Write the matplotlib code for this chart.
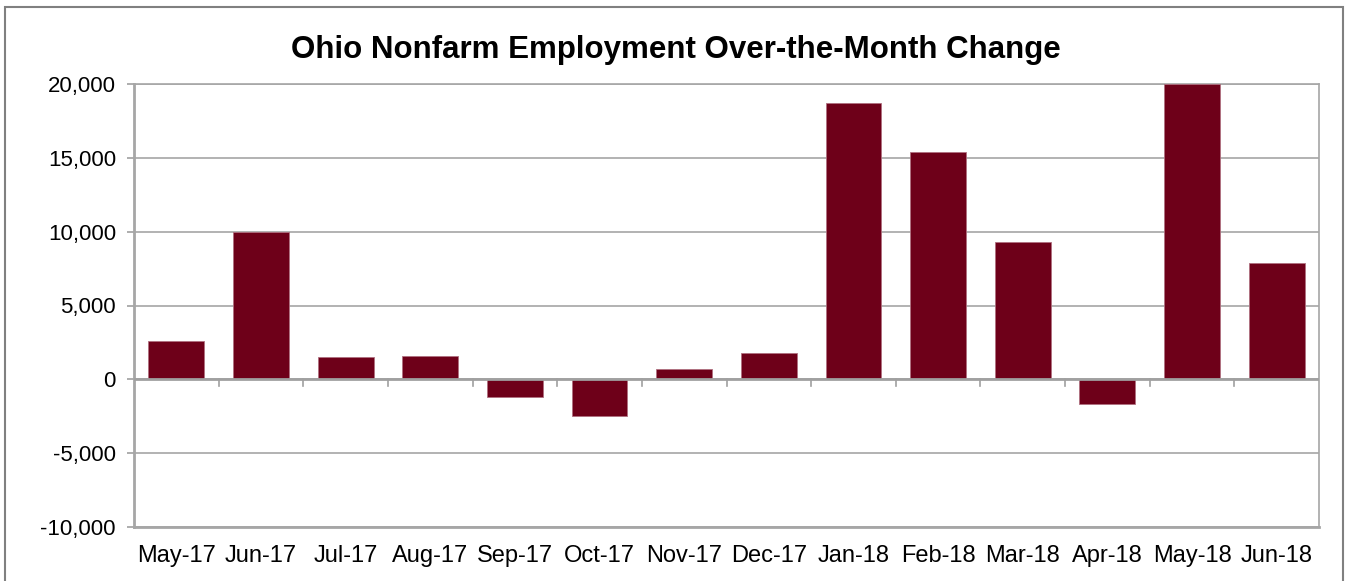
import matplotlib
matplotlib.use("Agg")
import matplotlib.pyplot as plt
from matplotlib.patches import Rectangle
from matplotlib.ticker import FuncFormatter
import numpy as np

months = ["May-17", "Jun-17", "Jul-17", "Aug-17", "Sep-17", "Oct-17", "Nov-17",
          "Dec-17", "Jan-18", "Feb-18", "Mar-18", "Apr-18", "May-18", "Jun-18"]
change = [2600, 10000, 1500, 1600, -1200, -2500, 700,
          1800, 18700, 15400, 9300, -1700, 20000, 7900]

plt.rcParams["font.family"] = ["Liberation Sans", "DejaVu Sans"]

W, H = 1349, 581
fig = plt.figure(figsize=(W / 100, H / 100), dpi=100)
ax = fig.add_axes([134 / W, 1 - 527 / H, (1319 - 134) / W, (527 - 84) / H])

x = np.arange(len(months))
ax.bar(x, change, width=0.66, color="#6E0019", edgecolor="#B07080",
       linewidth=0.6, zorder=3)

ax.set_xlim(-0.5, len(months) - 0.5)
ax.set_ylim(-10000, 20000)
ax.set_yticks(np.arange(-10000, 20001, 5000))
ax.yaxis.set_major_formatter(FuncFormatter(lambda v, p: f"{int(v):,}"))
ax.grid(axis="y", color="#A6A6A6", linewidth=1.2, zorder=0)

# zero line with category-boundary ticks
ax.axhline(0, color="#A0A0A0", linewidth=2, zorder=4)
for b in np.arange(0.5, len(months) - 1, 1.0):
    ax.plot([b, b], [0, -450], color="#A0A0A0", linewidth=1.2, zorder=4,
            clip_on=False)

ax.set_xticks(x)
ax.set_xticklabels(months, fontsize=17)
ax.tick_params(axis="x", length=0, pad=13)
ax.tick_params(axis="y", labelsize=16, length=5, color="#A0A0A0", width=1.2, pad=8)

for s in ["left", "right", "bottom", "top"]:
    ax.spines[s].set_color("#A6A6A6")
    ax.spines[s].set_linewidth(1.2)
ax.spines["left"].set_linewidth(2)
ax.spines["bottom"].set_linewidth(2)

fig.text(676 / W, 1 - 50 / H, "Ohio Nonfarm Employment Over-the-Month Change",
         ha="center", va="center", fontsize=22.5, fontweight="bold")

fig.patches.append(Rectangle((5 / W, -0.05), (1343 - 5) / W, 1.05 - 7 / H,
                             transform=fig.transFigure, fill=False,
                             edgecolor="#808080", linewidth=1.5))

fig.savefig("out.png", dpi=100)
